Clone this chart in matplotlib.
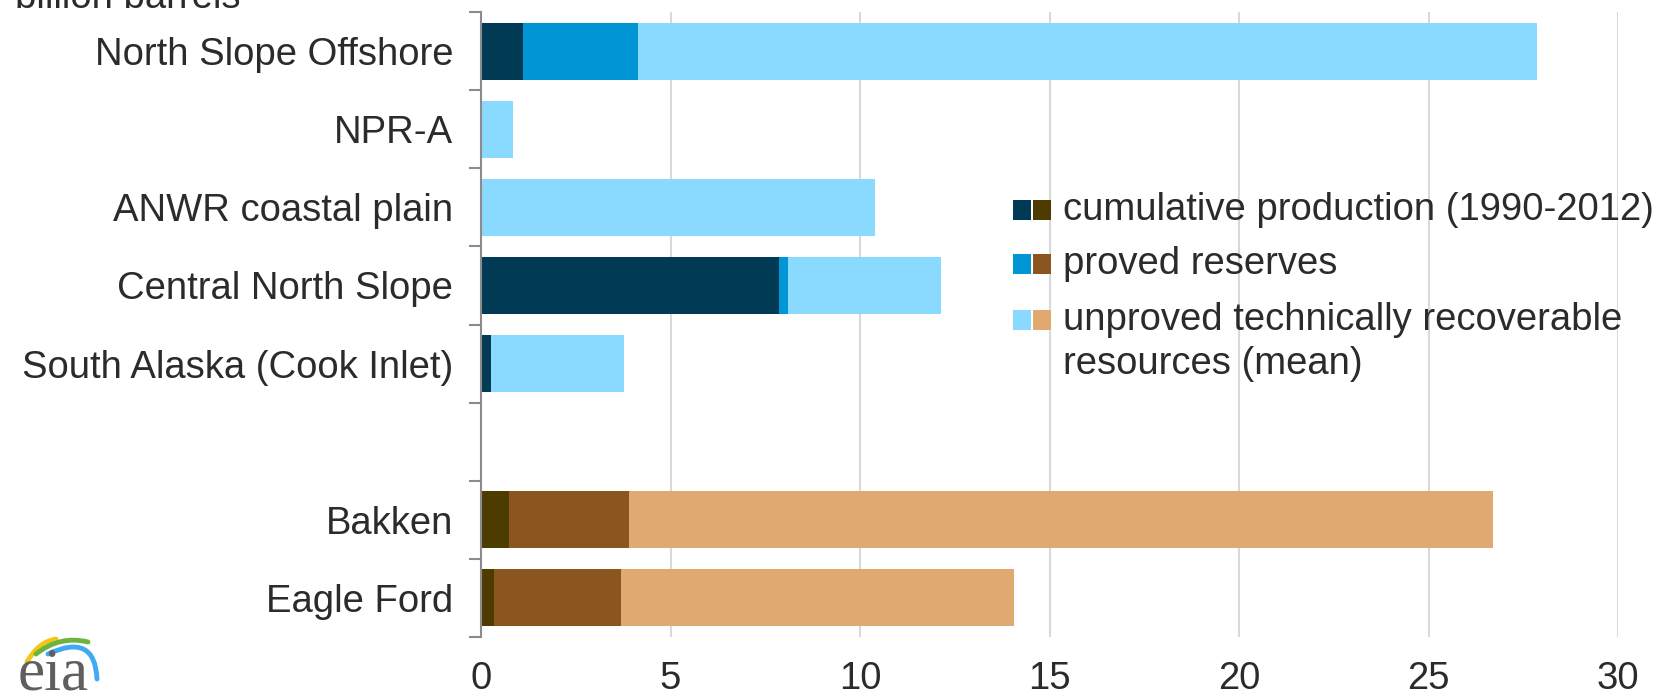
import numpy as np
import matplotlib
matplotlib.use("Agg")
import matplotlib.pyplot as plt
from matplotlib.patches import PathPatch, Rectangle
from matplotlib.path import Path

plt.rcParams["font.family"] = ["Liberation Sans", "DejaVu Sans"]

# data (billion barrels)
regions = ["North Slope Offshore", "NPR-A", "ANWR coastal plain", "Central North Slope",
           "South Alaska (Cook Inlet)", "Bakken", "Eagle Ford"]
is_alaska = [True, True, True, True, True, False, False]
cumulative = [1.10, 0.0, 0.0, 7.87, 0.26, 0.73, 0.34]
proved = [3.04, 0.0, 0.0, 0.24, 0.0, 3.18, 3.35]
unproved = [23.72, 0.85, 10.39, 4.02, 3.50, 22.79, 10.37]
x_ticks = [0, 5, 10, 15, 20, 25, 30]
series_labels = ["cumulative production (1990-2012)", "proved reserves",
                 "unproved technically recoverable\nresources (mean)"]

ak_colors = ["#003a54", "#0096d6", "#8ad9ff"]
l48_colors = ["#4d3b00", "#8b5520", "#e0a972"]
text_color = "#2b2b2b"
W, H = 1659, 700

fig = plt.figure(figsize=(W / 100, H / 100), dpi=100)
ax = fig.add_axes([481 / W, 1 - 637 / H, (1618 - 481) / W, (637 - 12) / H])

# one empty slot between Alaska and the lower 48 plays
ypos = [i if ak else i + 1 for i, ak in enumerate(is_alaska)]
stacks = [np.array(cumulative), np.array(proved), np.array(unproved)]
left = np.zeros(len(regions))
for k, vals in enumerate(stacks):
    cols = [ak_colors[k] if ak else l48_colors[k] for ak in is_alaska]
    ax.barh(ypos, vals, left=left, height=0.73, color=cols, linewidth=0)
    left = left + vals

ax.set_xlim(0, 30)
ax.set_ylim(7.5, -0.5)
ax.set_xticks(x_ticks)
ax.set_yticks(ypos, regions)
ax.set_yticks(np.arange(-0.5, 8, 1), minor=True)
ax.tick_params(axis="y", which="major", length=0, pad=20, labelsize=27.5, labelcolor=text_color)
ax.tick_params(axis="y", which="minor", length=9, width=1.5, color="#8c8c8c")
ax.tick_params(axis="x", length=0, pad=17, labelsize=27.5, labelcolor=text_color)
for s in ["top", "right", "bottom"]:
    ax.spines[s].set_visible(False)
ax.spines["left"].set_color("#8c8c8c")
ax.spines["left"].set_linewidth(1.5)
ax.grid(axis="x", color="#d9d9d9", linewidth=1.5)
ax.set_axisbelow(True)

# legend: paired swatches (Alaska / lower 48), first-line aligned like the original
row_y = [210, 264, 320]
for k, label in enumerate(series_labels):
    y = row_y[k]
    for j, c in enumerate([ak_colors[k], l48_colors[k]]):
        fig.patches.append(Rectangle(((1013 + 20 * j) / W, 1 - (y + 10) / H), 18 / W, 20 / H,
                                     transform=fig.transFigure, facecolor=c, linewidth=0))
    for n, line in enumerate(label.split("\n")):
        fig.text(1063 / W, 1 - (y + 44 * n) / H, line, ha="left", va="center",
                 fontsize=27.5, color=text_color)

fig.text(15 / W, 1 - 8 / H, "billion barrels", ha="left", va="baseline",
         fontsize=27.5, color=text_color)

# eia logo, drawn in pixel units
lax = fig.add_axes([0, 0, 110 / W, 80 / H])
lax.set_xlim(0, 110)
lax.set_ylim(700, 620)
lax.axis("off")
swooshes = [((27, 662), (38, 642), (56, 639), "#f5c518"),
            ((36, 654), (60, 635), (88, 642), "#6db33f"),
            ((48, 654), (95, 632), (97, 679), "#3fa9f5")]
for p0, p1, p2, c in swooshes:
    path = Path([p0, p1, p2], [Path.MOVETO, Path.CURVE3, Path.CURVE3])
    lax.add_patch(PathPatch(path, facecolor="none", edgecolor=c, linewidth=3.5, capstyle="round"))
fig.text(18 / W, 1 - 690 / H, "eia", fontsize=44, family=["Liberation Serif", "DejaVu Serif"],
         color="#5f5f5f", ha="left", va="baseline")

fig.savefig("out.png", dpi=100)
